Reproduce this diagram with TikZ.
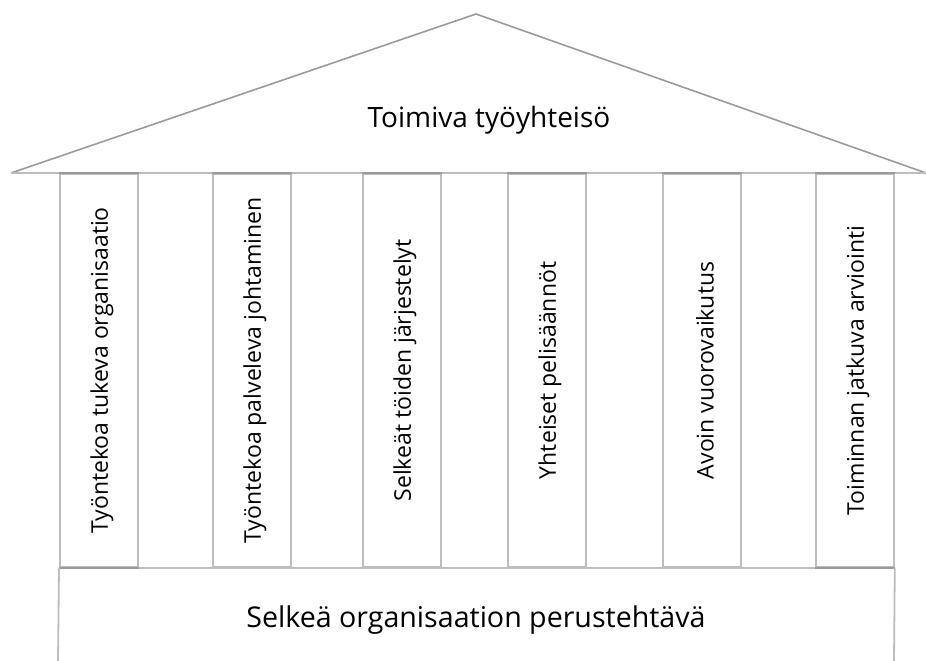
\documentclass[tikz,border=0pt]{standalone}
\usepackage{fontspec}
\setmainfont{Open Sans}
\definecolor{roofgray}{HTML}{9A9A9A}
\definecolor{linegray}{HTML}{BDBDBD}
\begin{document}
\begin{tikzpicture}[x=1pt,y=1pt,
  edge/.style={draw=roofgray,line width=1.6pt},
  light/.style={draw=linegray,line width=1.8pt},
  pillar/.style={light,minimum width=78pt,minimum height=393pt,inner sep=0pt,anchor=north west},
  ptext/.style={rotate=90,font=\fontsize{23}{26}\selectfont,text=black},
  ttext/.style={font=\fontsize{28}{32}\selectfont,text=black,anchor=base}]
\useasboundingbox (0,0) rectangle (926,661);
% roof
\coordinate (rl) at (11,488);
\coordinate (ra) at (476,647);
\coordinate (rr) at (926,488);
\draw[edge,line join=miter] (rl) -- (ra) -- (rr);
\draw[light] (rl) -- (rr);
\node[ttext] (title) at (489,533) {Toimiva työyhteisö};
% pillars
\foreach \x/\n/\t in {59/p1/Työntekoa tukeva organisaatio,
                      212/p2/Työntekoa palveleva johtaminen,
                      362/p3/Selkeät töiden järjestelyt,
                      507/p4/Yhteiset pelisäännöt,
                      662/p5/Avoin vuorovaikutus,
                      815/p6/Toiminnan jatkuva arviointi}{
  \node[pillar] (\n) at (\x,488) {};
  \node[ptext] (\n t) at ([xshift=3pt]\n.center) {\t};
  \draw[edge] (\n.north west) -- (\n.north east);
  \draw[edge] (\n.south west) -- (\n.south east);
}
% base
\coordinate (bl) at (58,0);
\coordinate (br) at (894,0);
\draw[light] (p1.south west) -- (p6.south east);
\draw[edge] (p1.south west) -- (p1.south east);
\draw[edge] (p6.south west) -- (p6.south east);
\draw[light] (p1.south west) -- (bl);
\draw[light] (p6.south east) -- (br);
\node[ttext,font=\fontsize{28.6}{32}\selectfont] (base) at (476,33) {Selkeä organisaation perustehtävä};
\end{tikzpicture}
\end{document}
